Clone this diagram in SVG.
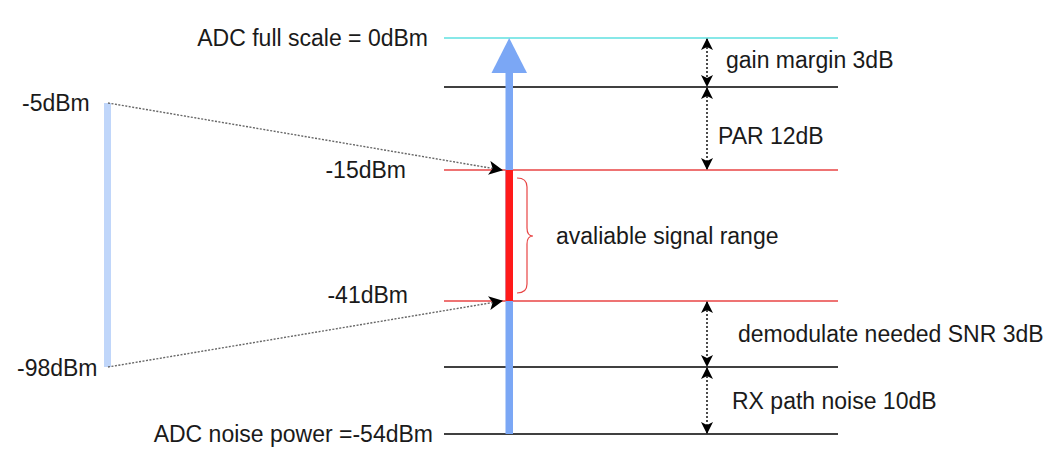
<svg xmlns="http://www.w3.org/2000/svg" width="1057" height="472" viewBox="0 0 1057 472">
<style>
text{font-family:"Liberation Sans",Arial,sans-serif;font-size:23px;fill:#1a1a1a}
.end{text-anchor:end}
.lvl{stroke-width:1.6;fill:none}
.dim{stroke:#000;stroke-width:1.4;stroke-dasharray:2 2;fill:none}
.map{stroke:#666;stroke-width:1.4;stroke-dasharray:2 1.5;fill:none}
</style>
<defs>
<marker id="ah" viewBox="0 0 12 12" refX="11" refY="6" markerWidth="12" markerHeight="12" markerUnits="userSpaceOnUse" orient="auto-start-reverse">
<path d="M0,0 L12,6 L0,12 L3,6 Z" fill="#000"/>
</marker>
<marker id="ah2" viewBox="0 0 14 14" refX="13" refY="7" markerWidth="14" markerHeight="14" markerUnits="userSpaceOnUse" orient="auto">
<path d="M0,0 L14,7 L0,14 L3.5,7 Z" fill="#000"/>
</marker>
</defs>
<rect width="1057" height="472" fill="#fff"/>
<g id="levels">
<line class="lvl" x1="444" y1="38" x2="838" y2="38" stroke="#5fe0e0"/>
<line class="lvl" x1="444" y1="87" x2="838" y2="87" stroke="#000"/>
<line class="lvl" x1="444" y1="170" x2="838" y2="170" stroke="#e84545"/>
<line class="lvl" x1="444" y1="301" x2="838" y2="301" stroke="#e84545"/>
<line class="lvl" x1="444" y1="367" x2="838" y2="367" stroke="#000"/>
<line class="lvl" x1="444" y1="434" x2="838" y2="434" stroke="#000"/>
</g>
<g id="axis">
<rect x="505.5" y="72" width="7.5" height="362" fill="#7ba7f5"/>
<path d="M509.2,38 L527,73 L491.5,73 Z" fill="#7ba7f5"/>
<rect x="505.5" y="170" width="7.5" height="131" fill="#ff1a1a"/>
</g>
<g id="input-range">
<rect x="104" y="103" width="7" height="264" fill="#c0d6fa"/>
</g>
<g id="connectors">
<line class="map" x1="108" y1="103" x2="502" y2="170" marker-end="url(#ah2)"/>
<line class="map" x1="108" y1="367" x2="502" y2="301" marker-end="url(#ah2)"/>
<line class="dim" x1="707" y1="39" x2="707" y2="86" marker-start="url(#ah)" marker-end="url(#ah)"/>
<line class="dim" x1="707" y1="88" x2="707" y2="169" marker-start="url(#ah)" marker-end="url(#ah)"/>
<line class="dim" x1="707" y1="302" x2="707" y2="366" marker-start="url(#ah)" marker-end="url(#ah)"/>
<line class="dim" x1="707" y1="368" x2="707" y2="433" marker-start="url(#ah)" marker-end="url(#ah)"/>
<path d="M517,178 Q527,178 527,187 L527,228 Q527,236 533,236 Q527,236 527,244 L527,284 Q527,293 517,293" fill="none" stroke="#e84545" stroke-width="1.2"/>
</g>
<g id="labels">
<text class="end" x="428" y="46">ADC full scale = 0dBm</text>
<text x="22" y="111">-5dBm</text>
<text class="end" x="406" y="178">-15dBm</text>
<text class="end" x="408" y="303">-41dBm</text>
<text x="17" y="376">-98dBm</text>
<text class="end" x="433" y="442">ADC noise power =-54dBm</text>
<text x="726" y="68">gain margin 3dB</text>
<text x="718" y="144">PAR 12dB</text>
<text x="556" y="244">avaliable signal range</text>
<text x="738" y="342">demodulate needed SNR 3dB</text>
<text x="732" y="409">RX path noise 10dB</text>
</g>
</svg>
